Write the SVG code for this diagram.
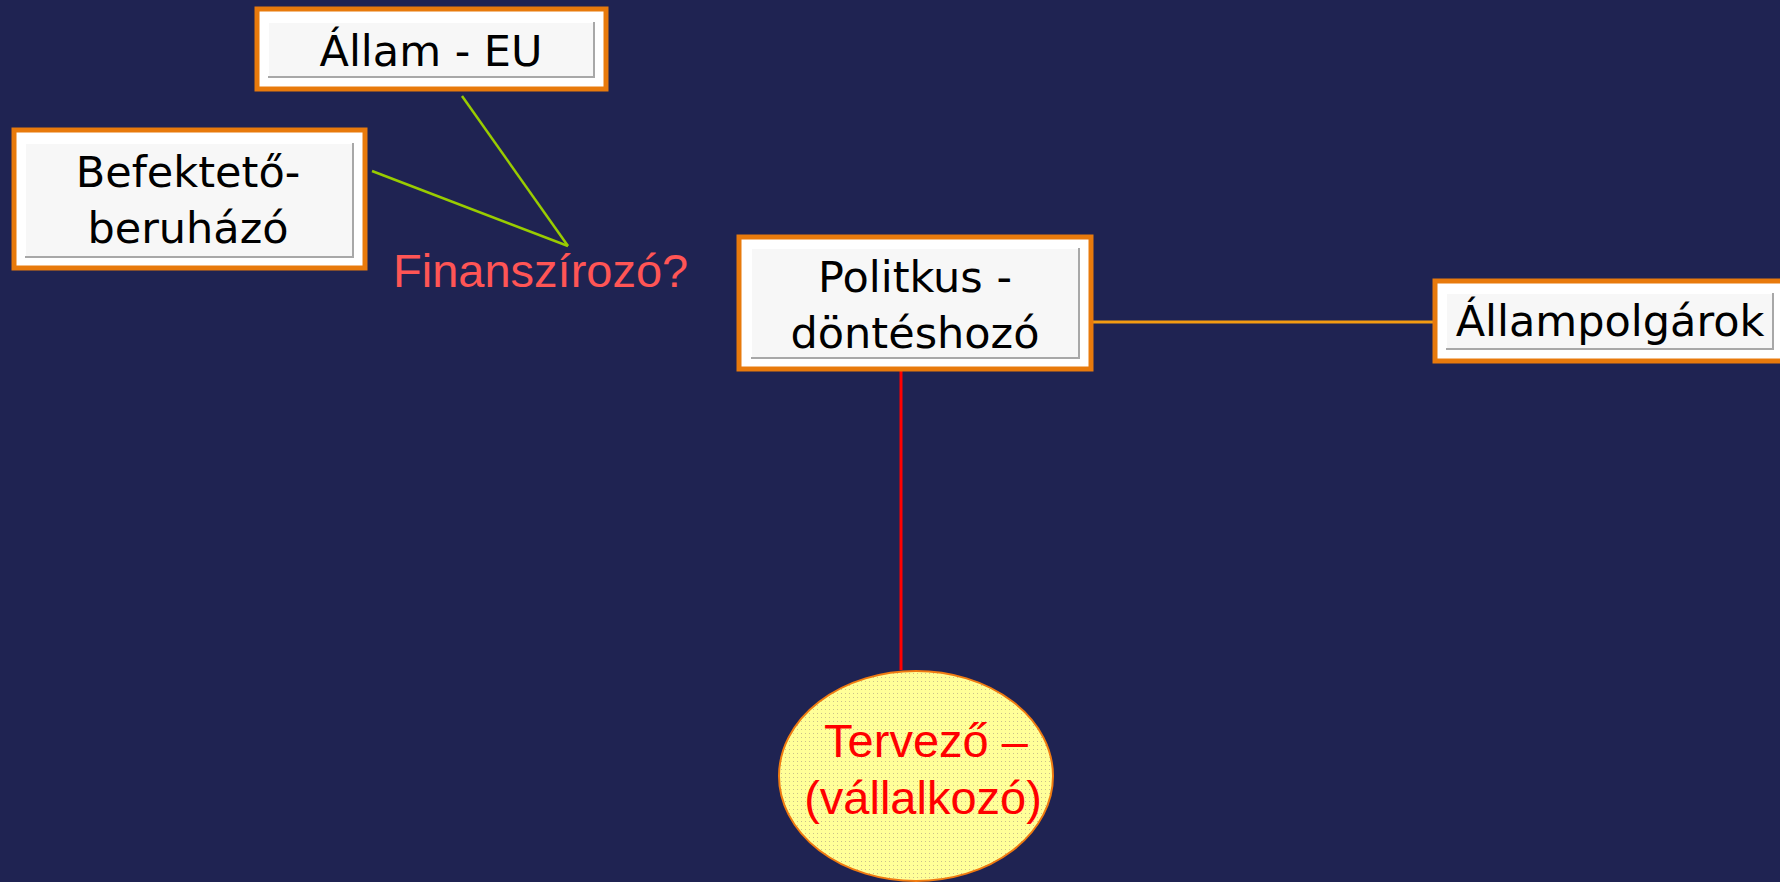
<svg xmlns="http://www.w3.org/2000/svg" width="1780" height="882" viewBox="0 0 1780 882">
<defs>
<style>
.outer{fill:#ffffff;stroke:#e87a0c;stroke-width:5}
.inner{fill:#f7f7f7}
.hl{stroke:#ffffff;stroke-width:2;fill:none}
.sh{stroke:#a8a8a8;stroke-width:2;fill:none}
.lbl{font-family:"DejaVu Sans","Verdana",sans-serif;font-size:43px;fill:#000000;text-anchor:middle}
.ell{font-family:"Liberation Sans",Arial,sans-serif;font-size:47px;fill:#ff0000;text-anchor:middle}
</style>
<pattern id="dots" width="4" height="4" patternUnits="userSpaceOnUse">
<rect width="4" height="4" fill="#ffff99"/>
<rect x="1" y="1" width="1" height="1" fill="#c9c08a"/>
</pattern>
</defs>
<rect width="1780" height="882" fill="#1f2352"/>
<g id="connectors" fill="none">
<line x1="462" y1="96" x2="568" y2="246" stroke="#99cc00" stroke-width="2.5"/>
<line x1="372" y1="171" x2="568" y2="246" stroke="#99cc00" stroke-width="2.5"/>
<line x1="1093" y1="322" x2="1433" y2="322" stroke="#f39c12" stroke-width="3"/>
<line x1="901" y1="371" x2="901" y2="670" stroke="#ff0000" stroke-width="3"/>
</g>
<g id="allam-eu">
<rect class="outer" x="257" y="9" width="349" height="80"/>
<rect class="inner" x="268" y="22" width="326" height="55"/>
<polyline class="hl" points="268,77 268,22 594,22"/>
<polyline class="sh" points="268,77 594,77 594,22"/>
<text class="lbl" x="431" y="66">Állam - EU</text>
</g>
<g id="befekteto">
<rect class="outer" x="14" y="130" width="351" height="138"/>
<rect class="inner" x="25" y="143" width="328" height="114"/>
<polyline class="hl" points="25,257 25,143 353,143"/>
<polyline class="sh" points="25,257 353,257 353,143"/>
<text class="lbl" x="188" y="187">Befektető-</text>
<text class="lbl" x="188" y="243">beruházó</text>
</g>
<g id="finanszirozo">
<text x="393" y="287" font-family="'Liberation Sans',Arial,sans-serif" font-size="47" fill="#ff5555">Finanszírozó?</text>
</g>
<g id="politikus">
<rect class="outer" x="739" y="237" width="352" height="132"/>
<rect class="inner" x="751" y="248" width="328" height="110"/>
<polyline class="hl" points="751,358 751,248 1079,248"/>
<polyline class="sh" points="751,358 1079,358 1079,248"/>
<text class="lbl" x="915" y="292">Politkus -</text>
<text class="lbl" x="915" y="348">döntéshozó</text>
</g>
<g id="allampolgarok">
<rect class="outer" x="1435" y="281" width="360" height="80"/>
<rect class="inner" x="1446" y="293" width="327" height="56"/>
<polyline class="hl" points="1446,349 1446,293 1773,293"/>
<polyline class="sh" points="1446,349 1773,349 1773,293"/>
<text class="lbl" x="1610" y="336">Állampolgárok</text>
</g>
<g id="tervezo">
<ellipse cx="916" cy="776" rx="137" ry="105" fill="url(#dots)" stroke="#f07a10" stroke-width="2"/>
<text class="ell" x="926" y="757">Tervező –</text>
<text class="ell" x="923" y="814">(vállalkozó)</text>
</g>
</svg>
